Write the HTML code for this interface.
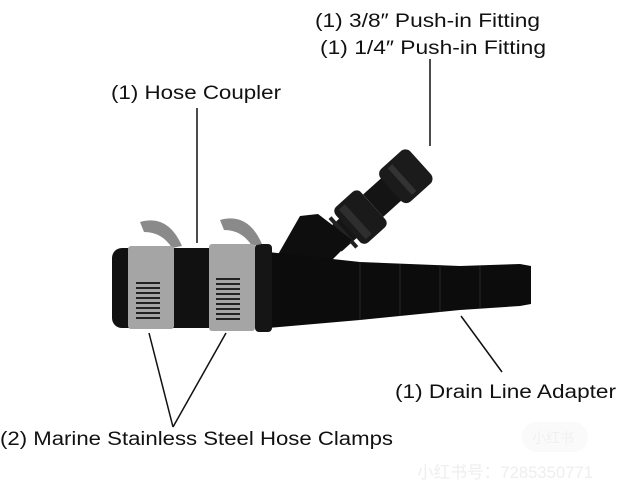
<!DOCTYPE html>
<html><head><style>
html,body{margin:0;padding:0;background:#fff;}
svg{display:block;}
text{font-family:"Liberation Sans","Noto Sans CJK SC",sans-serif;fill:#111;}
</style></head><body>
<svg width="617" height="500" viewBox="0 0 617 500" xmlns="http://www.w3.org/2000/svg">
<rect width="617" height="500" fill="#fff"/>
<!-- labels -->
<text x="315" y="27" font-size="19" textLength="225" lengthAdjust="spacingAndGlyphs">(1) 3/8″ Push-in Fitting</text>
<text x="320" y="54" font-size="19" textLength="226" lengthAdjust="spacingAndGlyphs">(1) 1/4″ Push-in Fitting</text>
<text x="111" y="99" font-size="19" textLength="170" lengthAdjust="spacingAndGlyphs">(1) Hose Coupler</text>
<text x="395" y="398" font-size="19" textLength="221" lengthAdjust="spacingAndGlyphs">(1) Drain Line Adapter</text>
<text x="0" y="445" font-size="19" textLength="393" lengthAdjust="spacingAndGlyphs">(2) Marine Stainless Steel Hose Clamps</text>
<!-- watermark -->
<rect x="522" y="422" width="66" height="30" rx="15" fill="#fafafa"/>
<text x="532" y="443" font-size="14" style="fill:#f0f0f0">小红书</text>
<text x="417" y="478" font-size="17" style="fill:#eeeeee" textLength="176" lengthAdjust="spacingAndGlyphs">小红书号：7285350771</text>
<!-- leader lines -->
<g stroke="#111" stroke-width="1.5" fill="none">
<line x1="197" y1="108" x2="197" y2="243"/>
<line x1="430" y1="59" x2="430" y2="146"/>
<line x1="461" y1="316" x2="502" y2="372"/>
<line x1="149" y1="333" x2="173" y2="427"/>
<line x1="226" y1="333" x2="173" y2="427"/>
</g>
<!-- fitting -->
<g transform="translate(385,195) rotate(-42)">
<rect x="-70" y="-13" width="40" height="26" fill="#151515"/>
<rect x="-58" y="-20" width="4" height="40" fill="#222"/>
<rect x="-50" y="-24" width="34" height="48" rx="6" fill="#1a1a1a"/>
<rect x="-16" y="-15" width="26" height="30" fill="#141414"/>
<rect x="8" y="-22" width="40" height="44" rx="7" fill="#1b1b1b"/>
<rect x="-44" y="-20" width="8" height="40" fill="#2e2e2e"/>
<rect x="20" y="-18" width="6" height="36" fill="#333"/>
</g>
<!-- branch -->
<polygon points="276,258 300,216 318,214 352,240 330,262 312,278 290,272" fill="#0e0e0e"/>
<!-- main tube -->
<path d="M268,252 L360,262 L460,266 L520,264 L531,266 L531,304 L520,306 L460,310 L360,320 L268,328 Z" fill="#0c0c0c"/>
<g stroke="#262626" stroke-width="1">
<line x1="360" y1="262" x2="360" y2="320"/><line x1="400" y1="264" x2="400" y2="316"/>
<line x1="440" y1="265" x2="440" y2="312"/><line x1="480" y1="266" x2="480" y2="308"/>
</g>
<!-- coupler -->
<rect x="112" y="248" width="160" height="80" rx="10" fill="#111"/>
<rect x="255" y="244" width="17" height="88" rx="4" fill="#151515"/>
<!-- clamp tails -->
<path d="M140,222 Q168,214 182,246 L172,248 Q162,232 144,232 Z" fill="#8a8a8a"/>
<path d="M220,220 Q248,212 262,244 L252,246 Q242,230 224,230 Z" fill="#8a8a8a"/>
<!-- clamps -->
<rect x="128" y="246" width="46" height="83" rx="3" fill="#a5a5a5"/>
<rect x="209" y="244" width="46" height="87" rx="3" fill="#a5a5a5"/>
<g stroke="#222" stroke-width="2">
<line x1="136" y1="283" x2="160" y2="283"/><line x1="136" y1="288" x2="160" y2="288"/>
<line x1="136" y1="293" x2="160" y2="293"/><line x1="136" y1="298" x2="160" y2="298"/>
<line x1="136" y1="303" x2="160" y2="303"/><line x1="136" y1="308" x2="160" y2="308"/>
<line x1="136" y1="313" x2="160" y2="313"/><line x1="136" y1="318" x2="160" y2="318"/>
<line x1="216" y1="279" x2="240" y2="279"/><line x1="216" y1="284" x2="240" y2="284"/>
<line x1="216" y1="289" x2="240" y2="289"/><line x1="216" y1="294" x2="240" y2="294"/>
<line x1="216" y1="299" x2="240" y2="299"/><line x1="216" y1="304" x2="240" y2="304"/>
<line x1="216" y1="309" x2="240" y2="309"/><line x1="216" y1="314" x2="240" y2="314"/>
<line x1="216" y1="319" x2="240" y2="319"/>
</g>
</svg>
</body></html>
